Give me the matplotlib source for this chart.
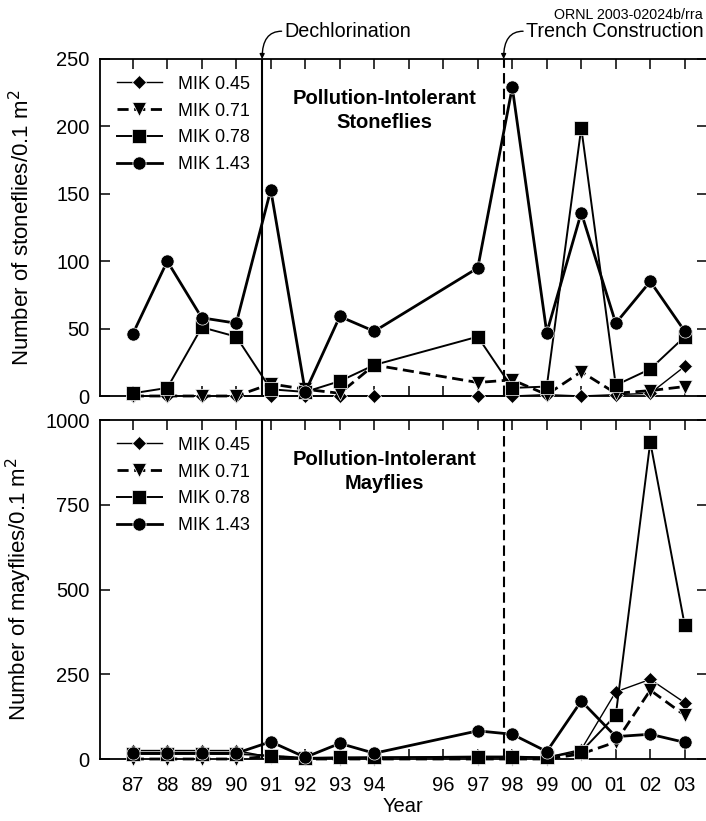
import numpy as np
import matplotlib
matplotlib.use('Agg')
import matplotlib.pyplot as plt

plt.rcParams['font.family'] = ['Liberation Sans', 'DejaVu Sans']

# years (2000+ written as 100+)
years = [87, 88, 89, 90, 91, 92, 93, 94, 97, 98, 99, 100, 101, 102, 103]
tick_years = [87, 88, 89, 90, 91, 92, 93, 94, 95, 96, 97, 98, 99, 100, 101, 102, 103]
tick_labels = ['87', '88', '89', '90', '91', '92', '93', '94', '', '96', '97', '98', '99', '00', '01', '02', '03']

# stoneflies / 0.1 m2
stone_045 = [0, 0, 0, 0, 0, 0, 0, 0, 0, 0, 1, 0, 1, 2, 22]
stone_071 = [0, 0, 0, 0, 9, 5, 2, 23, 10, 12, 1, 18, 2, 4, 7]
stone_078 = [2, 6, 51, 44, 5, 3, 11, 23, 44, 6, 7, 199, 8, 20, 44]
stone_143 = [46, 100, 58, 54, 153, 3, 59, 48, 95, 229, 47, 136, 54, 85, 48]

# mayflies / 0.1 m2
may_045 = [25, 25, 25, 25, 5, 2, 3, 5, 8, 8, 5, 28, 198, 235, 166]
may_071 = [0, 0, 0, 0, 8, 0, 0, 0, 0, 0, 0, 15, 50, 203, 129]
may_078 = [15, 15, 15, 15, 10, 3, 5, 5, 5, 5, 5, 22, 129, 935, 394]
may_143 = [17, 17, 17, 17, 51, 5, 46, 17, 83, 73, 22, 171, 66, 73, 49]

labels = ['MIK 0.45', 'MIK 0.71', 'MIK 0.78', 'MIK 1.43']
dechlor_x = 90.75
trench_x = 97.75

W, H = 706, 821
fig = plt.figure(figsize=(W / 100, H / 100), dpi=100)
left = 100 / W
width = 606.5 / W
ax1 = fig.add_axes([left, 1 - 396 / H, width, 337 / H])
ax2 = fig.add_axes([left, 1 - 759 / H, width, 339 / H])

styles = [
    dict(marker='D', ms=7, lw=1.0, ls='-'),
    dict(marker='v', ms=9.5, lw=2.0, ls=(0, (4, 2))),
    dict(marker='s', ms=9.5, lw=1.4, ls='-'),
    dict(marker='o', ms=9.5, lw=2.0, ls='-'),
]

def panel(ax, series, ymax, yticks, ylabel, title):
    for vals, st, lab in zip(series, styles, labels):
        ax.plot(years, vals, color='black', mfc='black', mec='white', mew=0.5,
                label=lab, clip_on=False, zorder=3, **st)
    ax.axvline(dechlor_x, color='black', lw=1.5, zorder=2)
    ax.axvline(trench_x, color='black', lw=1.5, ls=(0, (5, 2.5)), zorder=2)
    ax.set_xlim(86.05, 103.63)
    ax.set_ylim(0, ymax)
    ax.set_yticks(yticks)
    ax.set_xticks(tick_years)
    ax.tick_params(direction='in', top=True, right=True, length=7, width=1.1,
                   labelsize=14.5)
    ax.tick_params(axis='y', pad=7.5)
    ax.tick_params(axis='x', pad=12)
    for s in ax.spines.values():
        s.set_linewidth(1.3)
    ax.set_ylabel(ylabel, fontsize=16)
    ax.yaxis.set_label_coords(-0.108, 0.5)
    ax.text(0.469, 0.848, title, transform=ax.transAxes, ha='center', va='center',
            fontsize=14.5, fontweight='bold', linespacing=1.35)
    ax.legend(loc='upper left', bbox_to_anchor=(0.0, 1.0), frameon=False,
              fontsize=13, handlelength=2.5, handletextpad=0.9,
              labelspacing=0.55, borderaxespad=0.5, borderpad=0.42)

panel(ax1, [stone_045, stone_071, stone_078, stone_143], 250, [0, 50, 100, 150, 200, 250],
      'Number of stoneflies/0.1 m$^2$', 'Pollution-Intolerant\nStoneflies')
panel(ax2, [may_045, may_071, may_078, may_143], 1000, [0, 250, 500, 750, 1000],
      'Number of mayflies/0.1 m$^2$', 'Pollution-Intolerant\nMayflies')

ax1.set_xticklabels([])
ax2.set_xticklabels(tick_labels)
ax2.set_xlabel('Year', fontsize=14.5, labelpad=2)

# event annotations above the top panel
for xv, txt in [(dechlor_x, 'Dechlorination'), (trench_x, 'Trench Construction')]:
    ax1.annotate('', xy=(xv, 1.0), xycoords=('data', 'axes fraction'),
                 xytext=(14, 20), textcoords='offset points',
                 arrowprops=dict(arrowstyle='-|>', color='black', lw=1.0, mutation_scale=7,
                                 shrinkA=0, shrinkB=0,
                                 connectionstyle='angle3,angleA=0,angleB=90'))
    ax1.annotate(txt, xy=(xv, 1.0), xycoords=('data', 'axes fraction'),
                 xytext=(16, 20), textcoords='offset points', ha='left', va='center',
                 fontsize=14.2)

fig.text(703 / W, 1 - 15 / H, 'ORNL 2003-02024b/rra', ha='right', va='center', fontsize=10.3)

fig.savefig('out.png', dpi=100)
